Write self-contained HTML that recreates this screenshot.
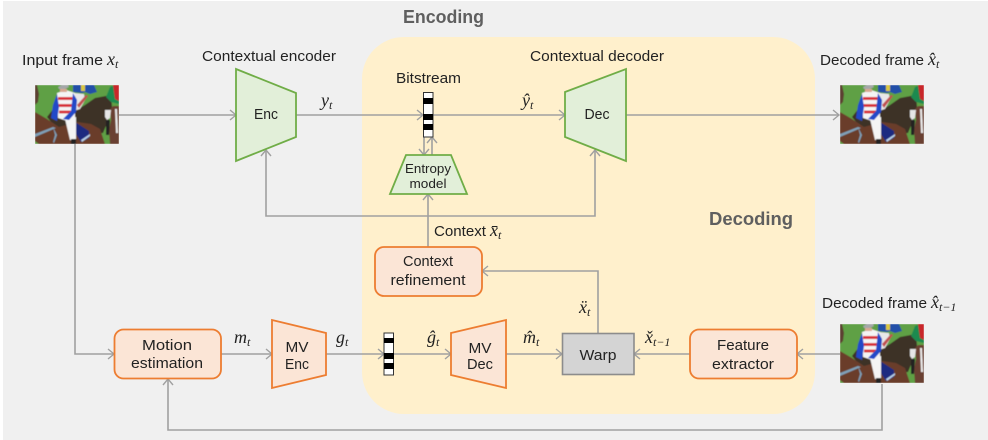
<!DOCTYPE html>
<html><head><meta charset="utf-8"><style>
html,body{margin:0;padding:0;background:#fff;width:988px;height:440px;overflow:hidden}
svg{display:block}
text{font-family:"Liberation Sans",sans-serif;fill:#222;font-size:15px}
.m{font-family:"Liberation Serif",serif;font-style:italic;font-size:18px;fill:#222}
.s{font-size:12px;font-family:"Liberation Serif",serif;font-style:italic}
.l{fill:none;stroke:#a0a0a0;stroke-width:1.6}
.a{fill:none;stroke:#a0a0a0;stroke-width:1.4}
.g{fill:#e2efd9;stroke:#70ad47;stroke-width:1.8}
.o{fill:#fbe5d6;stroke:#ed7d31;stroke-width:1.8}
</style></head><body>
<svg width="988" height="440" viewBox="0 0 988 440" xmlns="http://www.w3.org/2000/svg">
<defs>
<filter id="b" x="0" y="0" width="100%" height="100%"><feGaussianBlur stdDeviation="0.45"/></filter>
<g id="pic" filter="url(#b)">
<rect width="84" height="59" fill="#5fa044"/>
<path d="M0 0h2l2 9-1 8-3 3z" fill="#5b4032"/>
<path d="M38 0h21l3 7-7 2-5-2-3 1-9-1z" fill="#2450a8"/>
<path d="M46 0h4v6h-4z" fill="#d8c840"/>
<path d="M12 32l7-9 4 8 17-5 10-6 10-7 16-3 1 12-4 14-5 12-12 1-14-5-20 0z" fill="#3e3028"/>
<path d="M39 8l10 1 1 6-5 9-6 2z" fill="#e8e8e8"/>
<path d="M42 20l9-10 2 1-9 12z" fill="#c05050"/>
<path d="M71 12l4-10 5-2h4v19l-8-2z" fill="#1f8a50"/>
<path d="M78 0h6v16l-4-2z" fill="#c8262c"/>
<path d="M75 24l3-3h6v38H75l-1-14 2-10z" fill="#6b4032"/>
<path d="M80 24h2l1 24-2 0z" fill="#eee"/>
<path d="M70 25h6l-1 8-3 2-2-3z" fill="#e6e6e6"/>
<path d="M71 35h4l-1 15-3 0z" fill="#222"/>
<path d="M0 27l12 7 12 8 18-5 14 2 9 5 5 15H4l-4-3z" fill="#6a3e2c"/>
<path d="M0 49l18-7 3 1-21 9zM18 42l4 8-3 8-1-1 2-7z" fill="#7fa0b8"/>
<path d="M40 37l14 9 0 7-8 4-5-8z" fill="#1f2a80"/>
<path d="M46 55l9-6v2l-8 6z" fill="#b8d0e8"/>
<path d="M30 34l11-2 0 23-6 0z" fill="#f4f4f4"/>
<path d="M36 54h5v5h-5z" fill="#222"/>
<path d="M22 8l9-3 9 3v25l-8 3-9-3z" fill="#f4f4f4"/>
<path d="M23 12h16v3h-16zM23 19h16v3h-16zM24 25.500h15v3h-15z" fill="#d8303a"/>
<path d="M22 9l-4 11-2 13 6 3 2-14z" fill="#2248c8"/>
<path d="M38 8l4 7-1 12-7 8-6-1 8-8z" fill="#2248c8"/>
<path d="M23 2l4-2h6l1 2-4 2-6 0z" fill="#a4a8a8"/>
<path d="M25 4h7v3h-7z" fill="#d8a890"/>
</g>
</defs>

<rect width="988" height="440" fill="#fff"/>
<rect x="3" y="1" width="985" height="439" fill="#f0f0f0"/>
<rect x="362" y="37" width="453" height="377" rx="42" ry="42" fill="#fff0cc"/>

<!-- connectors -->
<g class="l">
<path d="M119 115H236M296 115H423M433 115H565M626 115H839"/>
<path d="M424 137V155M432 155V137"/>
<path d="M428 247V194"/>
<path d="M266 150V216H595V150"/>
<path d="M75 144V354H114"/>
<path d="M221 354H272M326 354H384M393 354H451M506 354H562"/>
<path d="M690 354H634M840 354H797"/>
<path d="M598 333V271H482"/>
<path d="M882 384V430H168V379"/>
</g>
<g class="a">
<path d="M230 110l6 5-6 5M417 110l6 5-6 5M559 110l6 5-6 5M833 110l6 5-6 5"/>
<path d="M419 149l5 6 5-6M427 143l5-6 5 6"/>
<path d="M423 200l5-6 5 6"/>
<path d="M261 156l5-6 5 6M590 156l5-6 5 6"/>
<path d="M108 349l6 5-6 5M266 349l6 5-6 5M378 349l6 5-6 5M445 349l6 5-6 5M556 349l6 5-6 5"/>
<path d="M640 349l-6 5 6 5M803 349l-6 5 6 5"/>
<path d="M488 266l-6 5 6 5"/>
<path d="M163 385l5-6 5 6"/>
</g>

<!-- pictures -->
<use href="#pic" x="35" y="85"/>
<use href="#pic" x="840" y="85"/>
<use href="#pic" x="840" y="324"/>

<!-- green shapes -->
<path class="g" d="M236 69L296 93V137L236 161Z"/>
<path class="g" d="M565 92L626 69V161L565 137Z"/>
<path class="g" d="M406 155H451L467 194H390Z"/>

<!-- bitstreams -->
<rect x="423.500" y="92.500" width="9.500" height="44.500" fill="#fff" stroke="#333" stroke-width="1"/>
<path d="M423 98h10v6h-10zM423 114h10v6h-10zM423 124h10v6h-10z" fill="#000"/>
<rect x="384" y="333" width="9.500" height="42" fill="#fff" stroke="#333" stroke-width="1"/>
<path d="M384 338h10v5h-10zM384 353h10v6h-10zM384 363h10v6h-10z" fill="#000"/>

<!-- orange shapes -->
<rect class="o" x="114.500" y="329.500" width="106.500" height="49" rx="9"/>
<rect class="o" x="375" y="247" width="107" height="49" rx="9"/>
<rect class="o" x="690" y="329.500" width="107" height="49" rx="9"/>
<path class="o" d="M272 320L326 333V375L272 388Z"/>
<path class="o" d="M451 333L506 320V388L451 375Z"/>
<rect x="562.500" y="333.500" width="71.500" height="41" fill="#d4d4d4" stroke="#8c8c8c" stroke-width="1.600"/>

<!-- titles -->
<text x="403" y="23" textLength="81" lengthAdjust="spacingAndGlyphs" style="font-size:18px;font-weight:bold;fill:#5f5f5f">Encoding</text>
<text x="709" y="225" textLength="84" lengthAdjust="spacingAndGlyphs" style="font-size:18px;font-weight:bold;fill:#5f5f5f">Decoding</text>

<!-- labels -->
<text x="22" y="65" textLength="81" lengthAdjust="spacingAndGlyphs">Input frame</text>
<text class="m" x="107" y="65">x<tspan class="s" dy="3">t</tspan></text>
<text x="202" y="61" textLength="134" lengthAdjust="spacingAndGlyphs">Contextual encoder</text>
<text class="m" x="321" y="106">y<tspan class="s" dy="3">t</tspan></text>
<text x="396" y="83" textLength="65" lengthAdjust="spacingAndGlyphs">Bitstream</text>
<text x="530" y="61" textLength="134" lengthAdjust="spacingAndGlyphs">Contextual decoder</text>
<text class="m" x="522" y="106">y&#770;<tspan class="s" dy="3">t</tspan></text>
<text x="820" y="65" textLength="104" lengthAdjust="spacingAndGlyphs">Decoded frame</text>
<text class="m" x="928" y="65">x&#770;<tspan class="s" dy="3">t</tspan></text>
<text x="822" y="308" textLength="105" lengthAdjust="spacingAndGlyphs">Decoded frame</text>
<text class="m" x="931" y="308">x&#770;<tspan class="s" dy="3">t&#8722;1</tspan></text>

<text x="266" y="119" text-anchor="middle" textLength="24" lengthAdjust="spacingAndGlyphs">Enc</text>
<text x="597" y="119" text-anchor="middle" textLength="25" lengthAdjust="spacingAndGlyphs">Dec</text>
<text x="428" y="173" text-anchor="middle" textLength="46" lengthAdjust="spacingAndGlyphs" style="font-size:13px">Entropy</text>
<text x="428" y="188" text-anchor="middle" textLength="37" lengthAdjust="spacingAndGlyphs" style="font-size:13px">model</text>
<text x="434" y="236" textLength="52" lengthAdjust="spacingAndGlyphs">Context</text>
<text class="m" x="490" y="236">x&#772;<tspan class="s" dy="3">t</tspan></text>
<text x="428" y="266" text-anchor="middle" textLength="50" lengthAdjust="spacingAndGlyphs">Context</text>
<text x="428" y="285" text-anchor="middle" textLength="75" lengthAdjust="spacingAndGlyphs">refinement</text>
<text x="167" y="350" text-anchor="middle" textLength="50" lengthAdjust="spacingAndGlyphs">Motion</text>
<text x="167" y="368" text-anchor="middle" textLength="72" lengthAdjust="spacingAndGlyphs">estimation</text>
<text x="297" y="352" text-anchor="middle" textLength="23" lengthAdjust="spacingAndGlyphs">MV</text>
<text x="297" y="369" text-anchor="middle" textLength="24" lengthAdjust="spacingAndGlyphs">Enc</text>
<text x="480" y="353" text-anchor="middle" textLength="23" lengthAdjust="spacingAndGlyphs">MV</text>
<text x="480" y="369" text-anchor="middle" textLength="26" lengthAdjust="spacingAndGlyphs">Dec</text>
<text x="598" y="360" text-anchor="middle" textLength="37" lengthAdjust="spacingAndGlyphs">Warp</text>
<text x="743" y="350" text-anchor="middle" textLength="52" lengthAdjust="spacingAndGlyphs">Feature</text>
<text x="743" y="369" text-anchor="middle" textLength="62" lengthAdjust="spacingAndGlyphs">extractor</text>

<text class="m" x="234" y="343">m<tspan class="s" dy="3">t</tspan></text>
<text class="m" x="336" y="343">g<tspan class="s" dy="3">t</tspan></text>
<text class="m" x="427" y="343">g&#770;<tspan class="s" dy="3">t</tspan></text>
<text class="m" x="523" y="343">m&#770;<tspan class="s" dy="3">t</tspan></text>
<text class="m" x="579" y="313">x&#776;<tspan class="s" dy="3">t</tspan></text>
<text class="m" x="645" y="343">x&#780;<tspan class="s" dy="3">t&#8722;1</tspan></text>
</svg>
</body></html>
